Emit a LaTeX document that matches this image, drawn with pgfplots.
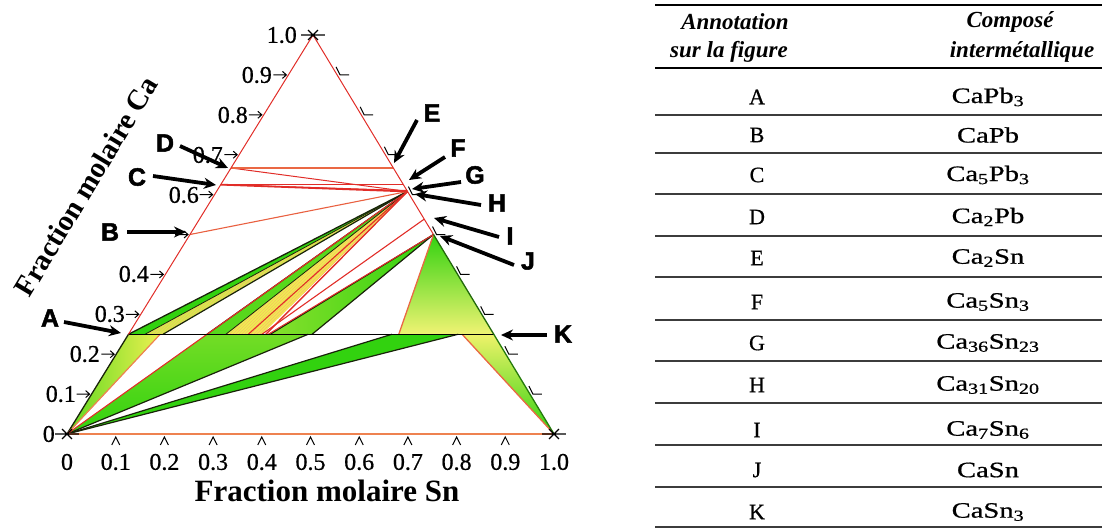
\documentclass[border=0pt]{standalone}
\usepackage{pgfplots}
\pgfplotsset{compat=1.18}
\usepackage{pgfplotstable}
\usepackage{graphicx}
\usepackage{fontspec}
\setmainfont{Liberation Serif}
\newfontfamily\printserif[FakeBold=0.7]{Liberation Serif}
\newfontfamily\annotfont[FakeBold=2]{Liberation Sans Bold}
\usetikzlibrary{arrows.meta,patterns}

\definecolor{edgered}{RGB}{225,45,40}
\definecolor{edgeorange}{RGB}{238,130,80}
\definecolor{phgreen}{RGB}{50,210,15}
\definecolor{phyellow}{RGB}{236,240,80}
\definecolor{darkedge}{RGB}{25,35,10}
\definecolor{rulegray}{RGB}{60,60,60}

% (x_Sn, x_Ca) -> position in the drawing (Pb bottom left, Sn bottom right, Ca top)
\pgfplotsset{table/tern/.style={row sep=\\,
  x expr=67+487*\thisrow{sn}+246*\thisrow{ca},
  y expr=434-399*\thisrow{ca}}}

\newcommand\tline[5]{\addplot[#1] table[tern]{sn ca\\ #2 #3\\ #4 #5\\};}
\newcommand\treg[7]{\addplot[#1] table[tern]{sn ca\\ #2 #3\\ #4 #5\\ #6 #7\\} -- cycle;}

% tick marks on the three sides
\pgfdeclareplotmark{tbot}{%
  \pgfpathmoveto{\pgfqpoint{-4pt}{-11pt}}%
  \pgfpathlineto{\pgfqpoint{0pt}{-3pt}}%
  \pgfpathlineto{\pgfqpoint{4pt}{-11pt}}%
  \pgfusepathqstroke}
\pgfdeclareplotmark{tleft}{%
  \pgfpathmoveto{\pgfqpoint{-15pt}{0pt}}%
  \pgfpathlineto{\pgfqpoint{-2pt}{0pt}}%
  \pgfpathmoveto{\pgfqpoint{-6pt}{3.5pt}}%
  \pgfpathlineto{\pgfqpoint{-2pt}{0pt}}%
  \pgfpathlineto{\pgfqpoint{-6pt}{-3.5pt}}%
  \pgfusepathqstroke}
\pgfdeclareplotmark{tright}{%
  \pgfpathmoveto{\pgfqpoint{-1pt}{8pt}}%
  \pgfpathlineto{\pgfqpoint{3pt}{0pt}}%
  \pgfpathlineto{\pgfqpoint{12pt}{0pt}}%
  \pgfusepathqstroke}
\pgfdeclareplotmark{corner}{%
  \pgfpathmoveto{\pgfqpoint{-5pt}{-5pt}}\pgfpathlineto{\pgfqpoint{5pt}{5pt}}%
  \pgfpathmoveto{\pgfqpoint{-5pt}{5pt}}\pgfpathlineto{\pgfqpoint{5pt}{-5pt}}%
  \pgfpathmoveto{\pgfqpoint{-12pt}{0pt}}\pgfpathlineto{\pgfqpoint{12pt}{0pt}}%
  \pgfusepathqstroke}

\tikzset{
  lab/.style={font=\printserif\fontsize{24bp}{28bp}\selectfont, inner sep=0pt},
  letter/.style={font=\annotfont\fontsize{25bp}{28bp}\selectfont, inner sep=0pt},
  pointer/.style={line width=3.8bp, -{Stealth[length=12bp,width=11bp]}},
  cell/.style={font=\printserif\fontsize{22bp}{26bp}\selectfont, inner sep=0pt},
  head/.style={font=\bfseries\itshape\fontsize{23bp}{26bp}\selectfont, inner sep=0pt},
}

\begin{document}
\begin{tikzpicture}
\begin{axis}[
  width=1102bp, height=531bp, scale only axis,
  xmin=0, xmax=1102, ymin=0, ymax=531, y dir=reverse,
  hide axis, clip=false,
]
% ---------- two-phase fields ----------
\treg{draw=none, left color=phgreen!75!phyellow, right color=phyellow,
      postaction={pattern=north east lines, pattern color=orange!60}}{0}{0}{0}{0.25}{0.065}{0.25}
\treg{draw=none, top color=phgreen!65!phyellow, bottom color=phgreen}{0}{0}{0.161}{0.25}{0.369}{0.25}
\treg{draw=none, fill=phgreen}{0}{0}{0.541}{0.25}{0.677}{0.25}
\treg{draw=none, top color=phyellow!85!white, bottom color=phgreen,
      postaction={pattern=north west lines, pattern color=orange!55}}{0.685}{0.25}{0.75}{0.25}{1}{0}
\treg{draw=none, top color=phgreen, middle color=phyellow, bottom color=phyellow!80!white,
      postaction={pattern=vertical lines, pattern color=orange!55}}{0.5}{0.5}{0.555}{0.25}{0.75}{0.25}
\treg{draw=none, fill=phgreen}{0}{0.25}{0.034}{0.25}{0.3922}{0.6078}
\treg{draw=none, fill=phyellow!85!phgreen,
      postaction={pattern=north east lines, pattern color=orange!55}}{0.034}{0.25}{0.071}{0.25}{0.3922}{0.6078}
\treg{draw=none, fill=phgreen!80!phyellow}{0.161}{0.25}{0.20}{0.25}{0.3922}{0.6078}
\treg{draw=none, fill=phyellow,
      postaction={pattern=north east lines, pattern color=orange!60}}{0.20}{0.25}{0.274}{0.25}{0.3922}{0.6078}
\treg{draw=none, left color=phgreen!55!phyellow, right color=phgreen}{0.291}{0.25}{0.377}{0.25}{0.5}{0.5}

% ---------- dark boundaries of the fields ----------
\tline{draw=darkedge, line width=1.3bp}{0}{0}{0}{0.25}
\tline{draw=darkedge, line width=1.3bp}{0}{0.25}{0.3922}{0.6078}
\tline{draw=darkedge, line width=0.8bp}{0.034}{0.25}{0.3922}{0.6078}
\tline{draw=darkedge, line width=1.2bp}{0.071}{0.25}{0.3922}{0.6078}
\tline{draw=darkedge, line width=1.1bp}{0.161}{0.25}{0.3922}{0.6078}
\tline{draw=darkedge, line width=0.8bp}{0.20}{0.25}{0.3922}{0.6078}
\tline{draw=darkedge, line width=1.2bp}{0}{0}{0.369}{0.25}
\tline{draw=darkedge, line width=1.2bp}{0}{0}{0.541}{0.25}
\tline{draw=darkedge, line width=1.2bp}{0}{0}{0.677}{0.25}
\tline{draw=darkedge, line width=1.2bp}{0.291}{0.25}{0.5}{0.5}
\tline{draw=darkedge, line width=1.2bp}{0.377}{0.25}{0.5}{0.5}

% ---------- tie triangles ----------
\tline{draw=edgeorange, line width=1.2bp}{0}{0}{0.065}{0.25}
\tline{draw=edgered, line width=1.1bp}{0}{0}{0.3922}{0.6078}
\tline{draw=edgered, line width=1.1bp}{0.246}{0.25}{0.3922}{0.6078}
\tline{draw=edgered, line width=1.4bp}{0.282}{0.25}{0.3922}{0.6078}
\tline{draw=edgered, line width=1.1bp}{0.274}{0.25}{0.4615}{0.5385}
\tline{draw=edgered, line width=1.0bp}{0.287}{0.25}{0.5}{0.5}
\tline{draw=edgeorange!60!edgered, line width=1.1bp}{0}{0.5}{0.3922}{0.6078}
\tline{draw=edgered, line width=1.8bp}{0}{0.625}{0.3922}{0.6078}
\tline{draw=edgered, line width=1.0bp}{0}{0.625}{0.3898}{0.6102}
\tline{draw=edgered, line width=1.3bp}{0}{0.625}{0.375}{0.625}
\tline{draw=edgered, line width=1.0bp}{0}{0.6667}{0.3922}{0.6078}
\tline{draw=edgeorange!70!edgered, line width=1.1bp}{0}{0.6667}{0.3333}{0.6667}
\tline{draw=edgeorange!70!edgered, line width=1.3bp}{0.5}{0.5}{0.555}{0.25}
\tline{draw=edgeorange!70!edgered, line width=1.3bp}{0.685}{0.25}{1}{0}
\tline{draw=black, line width=1.4bp}{0}{0.25}{0.75}{0.25}

% ---------- sides of the triangle ----------
\tline{draw=edgered, line width=1.0bp}{0}{0.25}{0}{1}
\tline{draw=edgered, line width=1.0bp}{0}{1}{0.5}{0.5}
\tline{draw=darkedge!60!phgreen, line width=1.3bp}{0.5}{0.5}{0.75}{0.25}
\tline{draw=darkedge!50!phgreen, line width=1.3bp}{0.75}{0.25}{1}{0}
\tline{draw=edgeorange, line width=1.3bp}{0}{0}{1}{0}

% ---------- ticks ----------
\addplot[only marks, mark=tbot, mark options={draw=black, line width=1bp}]
  table[tern]{sn ca\\ 0.1 0\\ 0.2 0\\ 0.3 0\\ 0.4 0\\ 0.5 0\\ 0.6 0\\ 0.7 0\\ 0.8 0\\ 0.9 0\\};
\addplot[only marks, mark=tleft, mark options={draw=black, line width=1bp}]
  table[tern]{sn ca\\ 0 0.1\\ 0 0.2\\ 0 0.3\\ 0 0.4\\ 0 0.5\\ 0 0.6\\ 0 0.7\\ 0 0.8\\ 0 0.9\\};
\addplot[only marks, mark=tright, mark options={draw=black, line width=1bp}]
  table[tern]{sn ca\\ 0.9 0.1\\ 0.8 0.2\\ 0.7 0.3\\ 0.6 0.4\\ 0.5 0.5\\ 0.4 0.6\\ 0.3 0.7\\ 0.2 0.8\\ 0.1 0.9\\};
\addplot[only marks, mark=corner, mark options={draw=black, line width=1.1bp}]
  table[tern]{sn ca\\ 0 0\\ 1 0\\ 0 1\\};

% ---------- tick labels ----------
\node[lab] at (axis cs:67,462) {0};
\node[lab] at (axis cs:115.7,462) {0.1};
\node[lab] at (axis cs:164.4,462) {0.2};
\node[lab] at (axis cs:213.1,462) {0.3};
\node[lab] at (axis cs:261.8,462) {0.4};
\node[lab] at (axis cs:310.5,462) {0.5};
\node[lab] at (axis cs:359.2,462) {0.6};
\node[lab] at (axis cs:407.9,462) {0.7};
\node[lab] at (axis cs:456.6,462) {0.8};
\node[lab] at (axis cs:505.3,462) {0.9};
\node[lab] at (axis cs:554,462) {1.0};
\node[lab, anchor=east] at (axis cs:55,434) {0};
\node[lab, anchor=east] at (axis cs:76,394) {0.1};
\node[lab, anchor=east] at (axis cs:100,354) {0.2};
\node[lab, anchor=east] at (axis cs:125,314) {0.3};
\node[lab, anchor=east] at (axis cs:149,274) {0.4};
\node[lab, anchor=east] at (axis cs:199,195) {0.6};
\node[lab, anchor=east] at (axis cs:223,155) {0.7};
\node[lab, anchor=east] at (axis cs:248,115) {0.8};
\node[lab, anchor=east] at (axis cs:272,75) {0.9};
\node[lab, anchor=east] at (axis cs:297,35) {1.0};

\node[font=\bfseries\fontsize{31bp}{34bp}\selectfont, inner sep=0pt] at (axis cs:327,491) {Fraction molaire Sn};
\node[font=\bfseries\fontsize{29bp}{34bp}\selectfont, inner sep=0pt, rotate=59] at (axis cs:86,186) {Fraction molaire Ca};

% ---------- annotations ----------
\node[letter] at (axis cs:50,318) {A};
\draw[pointer] (axis cs:64,322) -- (axis cs:121,333);
\node[letter] at (axis cs:110,232) {B};
\draw[pointer] (axis cs:127,232) -- (axis cs:186,232);
\node[letter] at (axis cs:137,177) {C};
\draw[pointer] (axis cs:153,176) -- (axis cs:216,185);
\node[letter] at (axis cs:165,143) {D};
\draw[pointer] (axis cs:180,146) -- (axis cs:228,168);
\node[letter] at (axis cs:432,113) {E};
\draw[pointer] (axis cs:417,120) -- (axis cs:394,163);
\node[letter] at (axis cs:458,148) {F};
\draw[pointer] (axis cs:445,157) -- (axis cs:409,180);
\node[letter] at (axis cs:475,175) {G};
\draw[pointer] (axis cs:461,182) -- (axis cs:412,189);
\node[letter] at (axis cs:497,203) {H};
\draw[pointer] (axis cs:481,205) -- (axis cs:415,194);
\node[letter] at (axis cs:510,236) {I};
\draw[pointer] (axis cs:499,237) -- (axis cs:434,218);
\node[letter] at (axis cs:528,261) {J};
\draw[pointer] (axis cs:514,265) -- (axis cs:440,236);
\node[letter] at (axis cs:563,334) {K};
\draw[pointer] (axis cs:547,335) -- (axis cs:501,335);

% ---------- table of compounds ----------
\draw[line width=2.5bp] (axis cs:655,5) -- (axis cs:1102,5);
\node[head] at (axis cs:735,22) {Annotation};
\node[head] at (axis cs:729,52) {sur la figure};
\node[head] at (axis cs:1010,22) {Composé};
\node[head] at (axis cs:1022,52) {intermétallique};
\draw[line width=2bp] (axis cs:655,68) -- (axis cs:1102,68);
\pgfplotsinvokeforeach{115,153,194,236,277,320,361,403,445,487,527}{%
  \draw[rulegray, line width=1.4bp] (axis cs:655,#1) -- (axis cs:1102,#1);}
\node[cell] at (axis cs:757,97)  {A};
\node[cell] at (axis cs:757,135) {B};
\node[cell] at (axis cs:757,175) {C};
\node[cell] at (axis cs:757,217) {D};
\node[cell] at (axis cs:757,258) {E};
\node[cell] at (axis cs:757,302) {F};
\node[cell] at (axis cs:757,343) {G};
\node[cell] at (axis cs:757,385) {H};
\node[cell] at (axis cs:757,430) {I};
\node[cell] at (axis cs:757,470) {J};
\node[cell] at (axis cs:757,512) {K};
\node[cell] at (axis cs:988,97)  {\scalebox{1.3}[1]{CaPb\textsubscript{3}}};
\node[cell] at (axis cs:988,135) {\scalebox{1.3}[1]{CaPb}};
\node[cell] at (axis cs:988,175) {\scalebox{1.3}[1]{Ca\textsubscript{5}Pb\textsubscript{3}}};
\node[cell] at (axis cs:988,217) {\scalebox{1.3}[1]{Ca\textsubscript{2}Pb}};
\node[cell] at (axis cs:988,258) {\scalebox{1.3}[1]{Ca\textsubscript{2}Sn}};
\node[cell] at (axis cs:988,302) {\scalebox{1.3}[1]{Ca\textsubscript{5}Sn\textsubscript{3}}};
\node[cell] at (axis cs:988,343) {\scalebox{1.3}[1]{Ca\textsubscript{36}Sn\textsubscript{23}}};
\node[cell] at (axis cs:988,385) {\scalebox{1.3}[1]{Ca\textsubscript{31}Sn\textsubscript{20}}};
\node[cell] at (axis cs:988,430) {\scalebox{1.3}[1]{Ca\textsubscript{7}Sn\textsubscript{6}}};
\node[cell] at (axis cs:988,470) {\scalebox{1.3}[1]{CaSn}};
\node[cell] at (axis cs:988,512) {\scalebox{1.3}[1]{CaSn\textsubscript{3}}};
\end{axis}
\pgfresetboundingbox
\useasboundingbox (current axis.south west) rectangle (current axis.north east);
\end{tikzpicture}
\end{document}
